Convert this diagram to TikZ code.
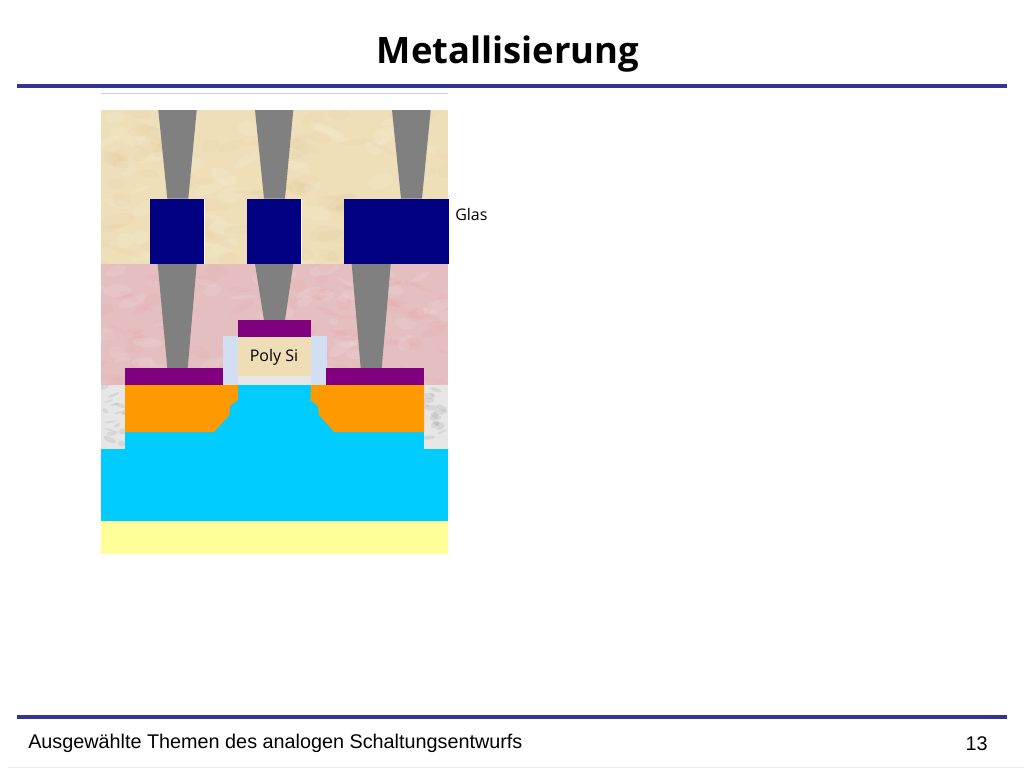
\documentclass[tikz,border=0pt]{standalone}
\usepackage{fontspec}
\setmainfont{Open Sans}
\newfontfamily\arialf{Liberation Sans}
\usetikzlibrary{calc}
\definecolor{rulec}{HTML}{333399}
\definecolor{glassc}{HTML}{EEDFB8}
\definecolor{pinkc}{HTML}{E5BFC0}
\definecolor{viac}{HTML}{808080}
\definecolor{metalc}{HTML}{000080}
\definecolor{silc}{HTML}{800080}
\definecolor{orangec}{HTML}{FF9900}
\definecolor{cyanc}{HTML}{00CCFF}
\definecolor{yellowc}{HTML}{FFFF99}
\definecolor{marblec}{HTML}{E6E6E6}
\definecolor{spacerc}{HTML}{D3DEF3}
\definecolor{polyc}{HTML}{EFDDB5}
\tikzset{
  via/.style={fill=viac,draw=none},
  rulebar/.style={fill=rulec,draw=none},
  lbl/.style={inner sep=0pt,anchor=base,text=black},
}
% texture: x0,y0,x1,y1, colour, count, seed, opacity, scale
\newcommand{\texturebox}[9]{%
  \begin{scope}
    \clip (#1,#2) rectangle (#3,#4);
    \pgfmathsetseed{#7}
    \foreach \i in {1,...,#6}{
      \pgfmathsetmacro{\px}{#1+rnd*(#3-#1)}
      \pgfmathsetmacro{\py}{#2+rnd*(#4-#2)}
      \pgfmathsetmacro{\rx}{(3+rnd*7)*#9}
      \pgfmathsetmacro{\ry}{(1+rnd*3)*#9}
      \pgfmathsetmacro{\ang}{rnd*60-30}
      \fill[#5,opacity=#8,rotate around={\ang:(\px,\py)}] (\px,\py) ellipse[x radius=\rx,y radius=\ry];
    }
  \end{scope}}
\begin{document}
\begin{tikzpicture}[x=0.75pt,y=-0.75pt]
\useasboundingbox (0,0) rectangle (1024,768);
\fill[white] (0,0) rectangle (1024,768);
% header and footer
\node[lbl,font=\fontsize{27.3pt}{32pt}\selectfont\bfseries] (title) at (508,63) {Metallisierung};
\fill[rulebar] (17,84) rectangle (1007,88);
\fill[rulebar] (17,715) rectangle (1007,719);
\node[lbl,anchor=base west,font=\arialf\fontsize{14.85pt}{17pt}\selectfont] (foot) at (28,748) {Ausgewählte Themen des analogen Schaltungsentwurfs};
\node[lbl,anchor=base east,font=\arialf\fontsize{14.85pt}{17pt}\selectfont] (page) at (988,750) {13};
\draw[draw=gray!15,line width=0.5pt] (8,767.3) -- (1024,767.3);
% faint top line
\draw[draw=rulec!25,line width=0.5pt] (101,93.3) -- (448,93.3);
% glass layer
\fill[glassc] (101,110) rectangle (448,264);
\texturebox{101}{110}{448}{264}{brown!45!glassc}{90}{11}{0.07}{2}
\texturebox{101}{110}{448}{264}{white}{60}{12}{0.10}{2}
% pink layer
\fill[pinkc] (101,264) rectangle (448,385);
\texturebox{101}{264}{448}{385}{red!35!pinkc}{90}{13}{0.07}{1.6}
\texturebox{101}{264}{448}{385}{white}{60}{14}{0.10}{1.6}
% upper vias
\fill[via] (158.3,110) -- (196.7,110) -- (188.3,198.5) -- (167.3,198.5) -- cycle;
\fill[via] (255,110) -- (293.3,110) -- (285,198.5) -- (264,198.5) -- cycle;
\fill[via] (392,110) -- (430.7,110) -- (422,198.5) -- (401,198.5) -- cycle;
% metal
\fill[white] (204,198.5) rectangle (205.3,264);
\fill[white] (301,198.5) rectangle (302.3,264);
\fill[metalc] (150.3,198.5) rectangle (204.3,264);
\fill[metalc] (247.3,198.5) rectangle (301.3,264);
\fill[metalc] (344,198.5) rectangle (448.7,264);
% lower vias
\fill[via] (157.7,264) -- (196.7,264) -- (187.7,368) -- (167.3,368) -- cycle;
\fill[via] (255,264) -- (293.3,264) -- (285,320) -- (264,320) -- cycle;
\fill[via] (351.7,264) -- (390.7,264) -- (381.7,368) -- (360.7,368) -- cycle;
% marble isolation
\fill[marblec] (101,385) rectangle (125,449);
\fill[marblec] (424,385) rectangle (448,449);
\texturebox{101}{385}{125}{449}{gray}{16}{15}{0.15}{0.8}
\texturebox{424}{385}{448}{449}{gray}{16}{16}{0.15}{0.8}
% substrate
\fill[cyanc] (125,385) rectangle (424,449);
\fill[cyanc] (101,449) rectangle (448,521);
\fill[yellowc] (101,521) rectangle (448,553.5);
% source and drain
\fill[orangec] (125,385) -- (238,385) -- (238,400) -- (230,406) -- (229.5,415) -- (214,432) -- (125,432) -- cycle;
\fill[orangec] (311,385) -- (424,385) -- (424,432) -- (334.3,432) -- (319,415) -- (318,406.5) -- (310.5,400) -- cycle;
% gate stack
\fill[spacerc] (222.5,336) rectangle (238,385);
\fill[spacerc] (311,336) rectangle (327,385);
\fill[polyc] (238,337) rectangle (311,376);
\fill[marblec] (238,376) rectangle (311,384.5);
% silicide
\fill[silc] (238,320) rectangle (311,336.7);
\fill[silc] (125,368) rectangle (222.5,385);
\fill[silc] (325.7,368) rectangle (424,385);
% labels
\node[lbl,font=\fontsize{12pt}{14pt}\selectfont] (poly) at (274,361.5) {Poly Si};
\node[lbl,anchor=base west,font=\fontsize{12pt}{14pt}\selectfont] (glas) at (455,220) {Glas};
\end{tikzpicture}
\end{document}
